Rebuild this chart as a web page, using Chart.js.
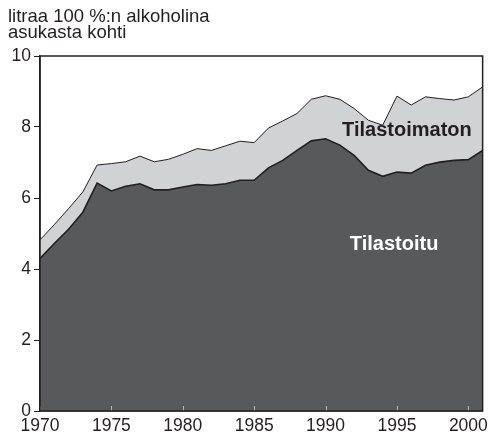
<!DOCTYPE html>
<html>
<head>
<meta charset="utf-8">
<script src="https://cdn.jsdelivr.net/npm/chart.js@4/dist/chart.umd.min.js"></script>
<style>
html,body{margin:0;padding:0;background:#fff;}
#wrap{position:relative;width:493px;height:437px;}
</style>
</head>
<body>
<div id="wrap"><canvas id="c" width="493" height="437"></canvas></div>
<script>
const vuodet = [1970,1971,1972,1973,1974,1975,1976,1977,1978,1979,1980,1981,1982,1983,1984,1985,1986,1987,1988,1989,1990,1991,1992,1993,1994,1995,1996,1997,1998,1999,2000,2001];
const tilastoitu = [4.30,4.72,5.12,5.60,6.42,6.20,6.33,6.40,6.23,6.23,6.31,6.38,6.36,6.40,6.50,6.50,6.85,7.06,7.34,7.61,7.67,7.49,7.20,6.78,6.61,6.73,6.70,6.92,7.01,7.06,7.08,7.34];
const kokonais = [4.82,5.25,5.70,6.17,6.93,6.97,7.02,7.18,7.02,7.09,7.23,7.39,7.34,7.47,7.60,7.56,7.97,8.17,8.38,8.78,8.88,8.78,8.52,8.19,8.05,8.87,8.62,8.85,8.80,8.76,8.85,9.13];
const yTicks = [0,2,4,6,8,10];
const xTicks = [1970,1975,1980,1985,1990,1995,2000];
const otsikko = ["litraa 100 %:n alkoholina", "asukasta kohti"];
const sarjaNimet = ["Tilastoitu", "Tilastoimaton"];

const FONT = '"Liberation Sans", Arial, Helvetica, sans-serif';

const decor = {
  id: 'decor',
  afterDatasetsDraw(chart) {
    const ctx = chart.ctx, a = chart.chartArea;
    const xs = chart.scales.x, ys = chart.scales.y;
    ctx.save();
    // inner x ticks
    ctx.strokeStyle = '#b8b8b8';
    ctx.lineWidth = 1;
    xTicks.forEach(v => {
      const px = Math.round(xs.getPixelForValue(v)) + 0.5;
      ctx.beginPath(); ctx.moveTo(px, a.bottom); ctx.lineTo(px, a.bottom - 5); ctx.stroke();
    });
    // frame
    ctx.strokeStyle = '#231f20';
    ctx.lineWidth = 1.5;
    ctx.strokeRect(a.left, a.top, a.right - a.left, a.bottom - a.top);
    // series labels
    ctx.font = 'bold 20px ' + FONT;
    ctx.textAlign = 'center';
    ctx.textBaseline = 'middle';
    ctx.fillStyle = '#231f20';
    ctx.fillText(sarjaNimet[1], xs.getPixelForValue(1995.7), ys.getPixelForValue(7.89));
    ctx.fillStyle = '#ffffff';
    ctx.fillText(sarjaNimet[0], xs.getPixelForValue(1994.8), ys.getPixelForValue(4.68));
    // title
    ctx.font = '18.5px ' + FONT;
    ctx.textAlign = 'left';
    ctx.textBaseline = 'alphabetic';
    ctx.fillStyle = '#231f20';
    ctx.fillText(otsikko[0], 8, 22);
    ctx.fillText(otsikko[1], 8, 38);
    ctx.restore();
  }
};

new Chart(document.getElementById('c'), {
  type: 'line',
  data: {
    datasets: [
      {
        label: sarjaNimet[0],
        data: vuodet.map((v, i) => ({x: v, y: tilastoitu[i]})),
        backgroundColor: '#58595b',
        borderColor: '#231f20',
        borderWidth: 1.6,
        fill: 'origin',
        pointRadius: 0,
        tension: 0
      },
      {
        label: sarjaNimet[1],
        data: vuodet.map((v, i) => ({x: v, y: kokonais[i]})),
        backgroundColor: '#d1d2d4',
        borderColor: '#231f20',
        borderWidth: 1,
        fill: 'origin',
        pointRadius: 0,
        tension: 0
      }
    ]
  },
  options: {
    responsive: false,
    animation: false,
    events: [],
    layout: {padding: {top: 56, right: 6, left: 0, bottom: 0}},
    plugins: {legend: {display: false}, tooltip: {enabled: false}, title: {display: false}},
    scales: {
      x: {
        type: 'linear',
        min: 1970, max: 2001,
        afterBuildTicks: s => { s.ticks = xTicks.map(v => ({value: v})); },
        afterFit: s => { s.height = 26; },
        grid: {display: false, drawTicks: false},
        border: {display: true, color: '#231f20', width: 1.5},
        ticks: {
          callback: v => String(v),
          color: '#231f20',
          font: {family: FONT, size: 17.5},
          padding: 5,
          maxRotation: 0,
          autoSkip: false
        }
      },
      y: {
        min: 0, max: 10,
        afterBuildTicks: s => { s.ticks = yTicks.map(v => ({value: v})); },
        afterFit: s => { s.width = 40; },
        grid: {display: true, drawOnChartArea: false, drawTicks: true, tickLength: 6, tickColor: '#231f20', lineWidth: 1},
        border: {display: true, color: '#231f20', width: 1.5},
        ticks: {
          callback: v => String(v),
          color: '#231f20',
          font: {family: FONT, size: 17.5},
          padding: 3
        }
      }
    }
  },
  plugins: [decor]
});
</script>
</body>
</html>
